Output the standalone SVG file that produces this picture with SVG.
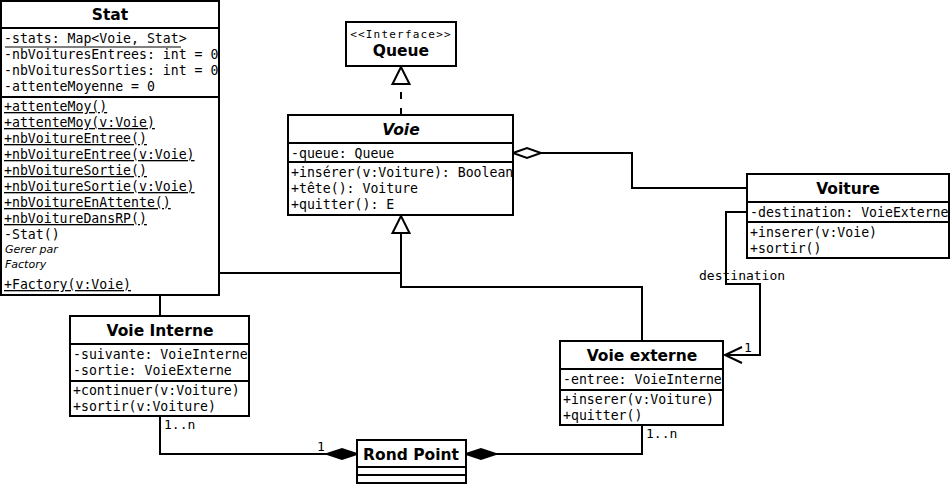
<svg xmlns="http://www.w3.org/2000/svg" width="950" height="485" viewBox="0 0 950 485">
<style>
.box{fill:#fff;stroke:#000;stroke-width:2}
.sep{stroke:#000;stroke-width:2}
.ttl{font-family:"DejaVu Sans",sans-serif;font-weight:bold;font-size:15.5px;text-anchor:middle;fill:#000}
.m{font-family:"DejaVu Sans Mono",monospace;font-size:13.2px;fill:#000}
.u{text-decoration:underline}
.note{font-family:"DejaVu Sans",sans-serif;font-style:italic;font-size:11px;fill:#000}
.st{font-family:"DejaVu Sans Mono",monospace;font-size:11px;letter-spacing:1.2px;text-anchor:middle;fill:#000}
.ln{fill:none;stroke:#000;stroke-width:2}
.lbl{font-family:"DejaVu Sans Mono",monospace;font-size:13px;fill:#000}
</style>
<defs>
<clipPath id="cStat"><rect x="1" y="1" width="218" height="294"/></clipPath>
<clipPath id="cVoie"><rect x="288" y="115" width="225" height="100"/></clipPath>
<clipPath id="cVoiture"><rect x="747" y="174" width="202" height="84"/></clipPath>
<clipPath id="cVI"><rect x="70" y="316" width="179" height="100"/></clipPath>
<clipPath id="cVE"><rect x="560" y="341" width="163" height="84"/></clipPath>
</defs>
<g id="connectors">
<path class="ln" d="M160 316 V273 H401 M642 341 V287 H401 V233"/>
<polygon points="401,216 392.5,233 409.5,233" fill="#fff" stroke="#000" stroke-width="2"/>
<path class="ln" d="M401 115 V84" stroke-dasharray="7,9"/>
<polygon points="401,67 392.5,84 409.5,84" fill="#fff" stroke="#000" stroke-width="2"/>
<path class="ln" d="M541 153 H632 V188 H747"/>
<polygon points="513,153 527,148 541,153 527,158" fill="#fff" stroke="#000" stroke-width="2"/>
<path class="ln" d="M747 212 H726 V284 H760 V355 H725"/>
<path class="ln" d="M742 347 L725 355 L742 363"/>
<text class="lbl" x="699" y="280">destination</text>
<text class="lbl" x="744" y="352">1</text>
<path class="ln" d="M160 416 V454 H327"/>
<polygon points="327,454 342,449 357,454 342,459" fill="#000" stroke="#000" stroke-width="2"/>
<text class="lbl" x="164" y="429">1..n</text>
<text class="lbl" x="317" y="451">1</text>
<path class="ln" d="M642 425 V454 H496"/>
<polygon points="466,454 481,449 496,454 481,459" fill="#000" stroke="#000" stroke-width="2"/>
<text class="lbl" x="646" y="438">1..n</text>
</g>
<g id="Stat">
<rect class="box" x="1" y="1" width="218" height="294"/>
<line class="sep" x1="1" y1="28" x2="219" y2="28"/>
<line class="sep" x1="1" y1="97" x2="219" y2="97"/>
<text class="ttl" x="110" y="20">Stat</text>
<g clip-path="url(#cStat)">
<text class="m" x="4" y="43">-stats: Map&lt;Voie, Stat&gt;</text>
<line x1="5" y1="47" x2="181" y2="47" stroke="#000" stroke-width="1"/>
<text class="m" x="4" y="59">-nbVoituresEntrees: int = 0</text>
<text class="m" x="4" y="75">-nbVoituresSorties: int = 0</text>
<text class="m" x="4" y="91">-attenteMoyenne = 0</text>
<text class="m u" x="4" y="111">+attenteMoy()</text>
<text class="m u" x="4" y="127">+attenteMoy(v:Voie)</text>
<text class="m u" x="4" y="143">+nbVoitureEntree()</text>
<text class="m u" x="4" y="159">+nbVoitureEntree(v:Voie)</text>
<text class="m u" x="4" y="175">+nbVoitureSortie()</text>
<text class="m u" x="4" y="191">+nbVoitureSortie(v:Voie)</text>
<text class="m u" x="4" y="207">+nbVoitureEnAttente()</text>
<text class="m u" x="4" y="223">+nbVoitureDansRP()</text>
<text class="m" x="4" y="239">-Stat()</text>
<text class="note" x="5" y="253">Gerer par</text>
<text class="note" x="5" y="268">Factory</text>
<text class="m u" x="4" y="289">+Factory(v:Voie)</text>
</g>
</g>
<g id="Queue">
<rect class="box" x="346" y="22" width="110" height="44"/>
<text class="st" x="401" y="38">&lt;&lt;Interface&gt;&gt;</text>
<text class="ttl" x="401" y="56">Queue</text>
</g>
<g id="Voie">
<rect class="box" x="288" y="115" width="225" height="100"/>
<line class="sep" x1="288" y1="143" x2="513" y2="143"/>
<line class="sep" x1="288" y1="162" x2="513" y2="162"/>
<text class="ttl" x="401" y="135" font-style="italic">Voie</text>
<g clip-path="url(#cVoie)">
<text class="m" x="291" y="158">-queue: Queue</text>
<text class="m" x="291" y="177">+insérer(v:Voiture): Boolean</text>
<text class="m" x="291" y="193">+tête(): Voiture</text>
<text class="m" x="291" y="209">+quitter(): E</text>
</g>
</g>
<g id="Voiture">
<rect class="box" x="747" y="174" width="202" height="84"/>
<line class="sep" x1="747" y1="202" x2="949" y2="202"/>
<line class="sep" x1="747" y1="222" x2="949" y2="222"/>
<text class="ttl" x="848" y="194">Voiture</text>
<g clip-path="url(#cVoiture)">
<text class="m" x="750" y="217">-destination: VoieExterne</text>
<text class="m" x="750" y="237">+inserer(v:Voie)</text>
<text class="m" x="750" y="253">+sortir()</text>
</g>
</g>
<g id="VoieInterne">
<rect class="box" x="70" y="316" width="179" height="100"/>
<line class="sep" x1="70" y1="344" x2="249" y2="344"/>
<line class="sep" x1="70" y1="381" x2="249" y2="381"/>
<text class="ttl" x="160" y="336">Voie Interne</text>
<g clip-path="url(#cVI)">
<text class="m" x="73" y="359">-suivante: VoieInterne</text>
<text class="m" x="73" y="375">-sortie: VoieExterne</text>
<text class="m" x="73" y="395">+continuer(v:Voiture)</text>
<text class="m" x="73" y="411">+sortir(v:Voiture)</text>
</g>
</g>
<g id="VoieExterne">
<rect class="box" x="560" y="341" width="163" height="84"/>
<line class="sep" x1="560" y1="369" x2="723" y2="369"/>
<line class="sep" x1="560" y1="390" x2="723" y2="390"/>
<text class="ttl" x="642" y="361">Voie externe</text>
<g clip-path="url(#cVE)">
<text class="m" x="563" y="384">-entree: VoieInterne</text>
<text class="m" x="563" y="404">+inserer(v:Voiture)</text>
<text class="m" x="563" y="420">+quitter()</text>
</g>
</g>
<g id="RondPoint">
<rect class="box" x="357" y="440" width="109" height="43"/>
<line class="sep" x1="357" y1="467" x2="466" y2="467"/>
<line class="sep" x1="357" y1="475" x2="466" y2="475"/>
<text class="ttl" x="411" y="460">Rond Point</text>
</g>
</svg>
